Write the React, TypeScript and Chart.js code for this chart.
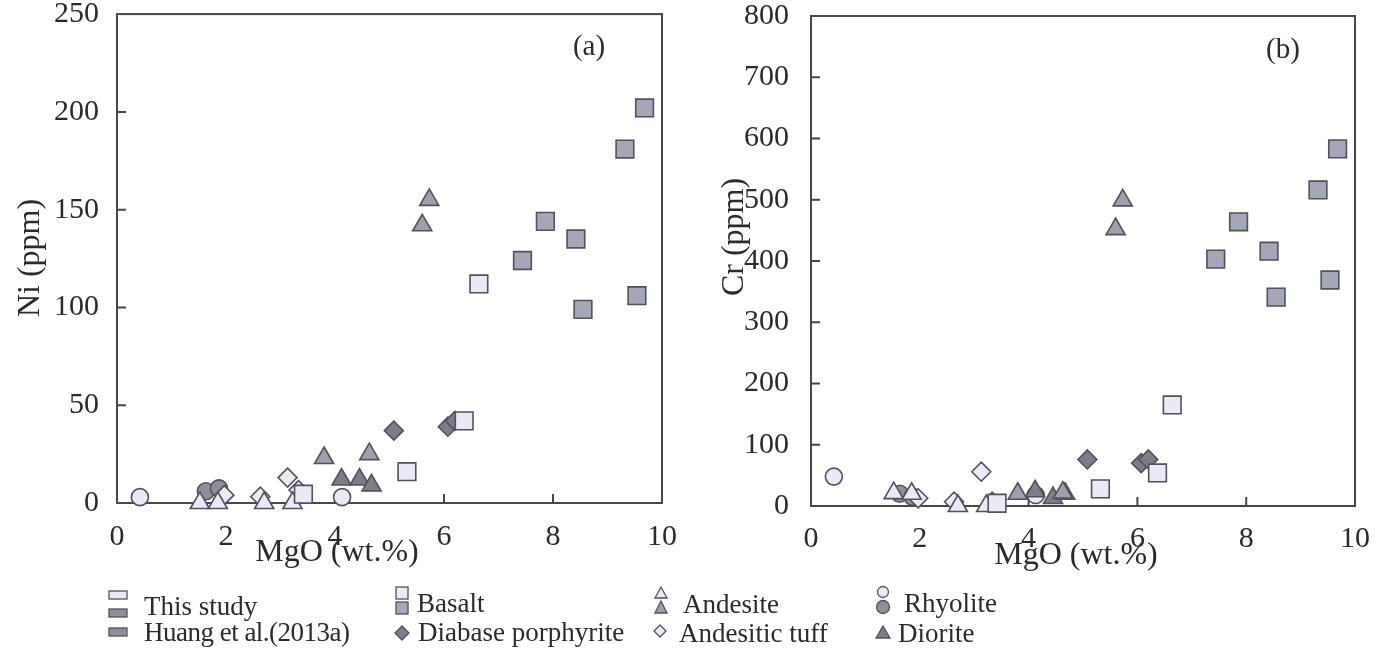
import React, { useEffect, useRef } from "react";
import { Chart, registerables } from "chart.js";

Chart.register(...registerables);

const FONT = '"Liberation Serif", "Times New Roman", serif';
const INK = "#2b2b2b";
const AXIS = "#47474c";
const EDGE = "#52525a";

// Colours of the two sources
const LIGHT = "#e9eaf5";
const HUANG_BASALT = "#a5a6b7";
const HUANG_ANDESITE = "#9fa0ae";
const HUANG_RHYOLITE = "#8e8f9b";
const DARK = "#7c7d88";

// Basalt, Huang et al. (2013a)
const huangBasaltMgO = [9.68, 9.32, 7.86, 8.42, 7.44, 9.54, 8.55];
const huangBasaltNi = [202, 181, 144, 135, 124, 106, 99];
const huangBasaltCr = [583, 516, 464, 416, 403, 369, 341];

// Basalt, this study
const studyBasaltMgO = [6.64, 6.37, 5.32, 3.42];
const studyBasaltNi = [112, 42, 16, 4.5];
const studyBasaltCr = [165, 54, 28, 4.5];

// Andesite, Huang et al. (2013a)
const huangAndesiteMgO = [5.73, 5.6, 3.8, 4.63];
const huangAndesiteNi = [155, 142, 23, 25];
const huangAndesiteCr = [499, 452, 20, 22];

// Andesite, this study
const studyAndesiteMgO = [1.52, 1.85, 2.7, 3.22];
const studyAndesiteNi = [0, 0, 0, 0];
const studyAndesiteCr = [21, 20, 0, 0];

// Diorite
const dioriteMgO = [4.12, 4.45, 4.67];
const dioriteNi = [12, 12, 9];
const dioriteCr = [24, 13, 20];

// Diabase porphyrite
const diabaseMgO = [5.08, 6.07, 6.2];
const diabaseNi = [37, 39, 42];
const diabaseCr = [76, 70, 76];

// Andesitic tuff
const tuffMgO = [3.13, 3.33, 2.63, 1.97];
const tuffNi = [13, 6.6, 3.2, 4];
const tuffCr = [56, 7, 7, 12.6];

// Rhyolite, this study
const studyRhyoliteMgO = [0.42, 4.13];
const studyRhyoliteNi = [3, 3];
const studyRhyoliteCr = [48, 18];

// Rhyolite, Huang et al. (2013a)
const huangRhyoliteMgO = [1.63, 1.87];
const huangRhyoliteNi = [6, 7.5];
const huangRhyoliteCr = [20, 15];

const xTicks = [0, 2, 4, 6, 8, 10];
const niTicks = [0, 50, 100, 150, 200, 250];
const crTicks = [0, 100, 200, 300, 400, 500, 600, 700, 800];

type Series = {
  mgo: number[];
  ni: number[];
  cr: number[];
  style: string;
  radius: number;
  fill: string;
};

// Drawing order: squares first, circles last
const series: Series[] = [
  { mgo: huangBasaltMgO, ni: huangBasaltNi, cr: huangBasaltCr, style: "rect", radius: 12.5, fill: HUANG_BASALT },
  { mgo: studyBasaltMgO, ni: studyBasaltNi, cr: studyBasaltCr, style: "rect", radius: 12.5, fill: LIGHT },
  { mgo: huangAndesiteMgO, ni: huangAndesiteNi, cr: huangAndesiteCr, style: "triangle", radius: 11, fill: HUANG_ANDESITE },
  { mgo: studyAndesiteMgO, ni: studyAndesiteNi, cr: studyAndesiteCr, style: "triangle", radius: 11, fill: LIGHT },
  { mgo: dioriteMgO, ni: dioriteNi, cr: dioriteCr, style: "triangle", radius: 11, fill: DARK },
  { mgo: diabaseMgO, ni: diabaseNi, cr: diabaseCr, style: "rectRot", radius: 9.5, fill: DARK },
  { mgo: tuffMgO, ni: tuffNi, cr: tuffCr, style: "rectRot", radius: 9.5, fill: LIGHT },
  { mgo: huangRhyoliteMgO, ni: huangRhyoliteNi, cr: huangRhyoliteCr, style: "circle", radius: 8.5, fill: HUANG_RHYOLITE },
  { mgo: studyRhyoliteMgO, ni: studyRhyoliteNi, cr: studyRhyoliteCr, style: "circle", radius: 8.5, fill: LIGHT },
];

type PanelSpec = {
  key: "ni" | "cr";
  offsetX: number;
  width: number;
  height: number;
  area: { left: number; right: number; top: number; bottom: number };
  yMax: number;
  yTicks: number[];
  yTitle: string;
  yTitlePos: [number, number];
  xTitlePos: [number, number];
  tag: string;
  tagPos: [number, number];
  yPad: number;
  xPad: number;
};

const panels: PanelSpec[] = [
  {
    key: "ni",
    offsetX: 0,
    width: 690,
    height: 580,
    area: { left: 117, right: 662, top: 12, bottom: 503 },
    yMax: 250,
    yTicks: niTicks,
    yTitle: "Ni (ppm)",
    yTitlePos: [31, 258],
    xTitlePos: [337, 553],
    tag: "(a)",
    tagPos: [589, 47],
    yPad: 18,
    xPad: 16,
  },
  {
    key: "cr",
    offsetX: 690,
    width: 693,
    height: 580,
    area: { left: 121, right: 665, top: 16, bottom: 506 },
    yMax: 800,
    yTicks: crTicks,
    yTitle: "Cr (ppm)",
    yTitlePos: [45, 237],
    xTitlePos: [386, 556],
    tag: "(b)",
    tagPos: [593, 50],
    yPad: 22,
    xPad: 15,
  },
];

const framePlugin = {
  id: "frame",
  beforeDatasetsDraw(chart: any) {
    const { ctx, chartArea: a, scales } = chart;
    ctx.save();
    ctx.strokeStyle = AXIS;
    ctx.lineWidth = 2;
    ctx.strokeRect(a.left, a.top, a.right - a.left, a.bottom - a.top);
    const len = 9;
    ctx.beginPath();
    for (const t of scales.x.ticks) {
      const px = scales.x.getPixelForValue(t.value);
      if (px <= a.left + 1 || px >= a.right - 1) continue;
      ctx.moveTo(px, a.bottom);
      ctx.lineTo(px, a.bottom - len);
    }
    for (const t of scales.y.ticks) {
      const py = scales.y.getPixelForValue(t.value);
      if (py <= a.top + 1 || py >= a.bottom - 1) continue;
      ctx.moveTo(a.left, py);
      ctx.lineTo(a.left + len, py);
    }
    ctx.stroke();
    ctx.restore();
  },
  afterDraw(chart: any) {
    const spec: PanelSpec = chart.options.plugins.frame.spec;
    const { ctx } = chart;
    ctx.save();
    ctx.fillStyle = INK;
    ctx.textAlign = "center";
    ctx.textBaseline = "middle";
    ctx.font = `32px ${FONT}`;
    ctx.fillText("MgO (wt.%)", spec.xTitlePos[0], spec.xTitlePos[1]);
    ctx.save();
    ctx.translate(spec.yTitlePos[0], spec.yTitlePos[1]);
    ctx.rotate(-Math.PI / 2);
    ctx.fillText(spec.yTitle, 0, 0);
    ctx.restore();
    ctx.font = `29px ${FONT}`;
    ctx.fillText(spec.tag, spec.tagPos[0], spec.tagPos[1]);
    ctx.restore();
  },
};

function ScatterPanel({ spec }: { spec: PanelSpec }) {
  const ref = useRef<HTMLCanvasElement | null>(null);

  useEffect(() => {
    if (!ref.current) return;
    const a = spec.area;
    const chart = new Chart(ref.current, {
      type: "scatter",
      data: {
        datasets: series.map((s) => ({
          data: s.mgo.map((x, i) => ({ x, y: s[spec.key][i] })),
          pointStyle: s.style as any,
          pointRadius: s.radius,
          pointHoverRadius: s.radius,
          backgroundColor: s.fill,
          borderColor: EDGE,
          borderWidth: 1.6,
          clip: false as any,
        })),
      },
      options: {
        responsive: false,
        animation: false,
        events: [],
        layout: {
          padding: { left: 0, top: a.top, right: spec.width - a.right, bottom: 0 },
        },
        plugins: {
          legend: { display: false },
          tooltip: { enabled: false },
          frame: { spec },
        } as any,
        scales: {
          x: {
            type: "linear",
            min: 0,
            max: 10,
            afterBuildTicks: (s: any) => {
              s.ticks = xTicks.map((v) => ({ value: v }));
            },
            afterFit: (s: any) => {
              s.height = spec.height - a.bottom;
              s.paddingLeft = 0;
              s.paddingRight = 0;
            },
            grid: { display: false, drawTicks: false },
            border: { display: false },
            ticks: {
              color: INK,
              font: { family: FONT, size: 30 },
              padding: spec.xPad,
              maxRotation: 0,
              autoSkip: false,
            },
          },
          y: {
            type: "linear",
            min: 0,
            max: spec.yMax,
            afterBuildTicks: (s: any) => {
              s.ticks = spec.yTicks.map((v) => ({ value: v }));
            },
            afterFit: (s: any) => {
              s.width = a.left;
              s.paddingTop = 0;
              s.paddingBottom = 0;
            },
            grid: { display: false, drawTicks: false },
            border: { display: false },
            ticks: {
              color: INK,
              font: { family: FONT, size: 30 },
              padding: spec.yPad,
              autoSkip: false,
            },
          },
        },
      },
      plugins: [framePlugin],
    });
    return () => chart.destroy();
  }, [spec]);

  return (
    <canvas
      ref={ref}
      width={spec.width}
      height={spec.height}
      style={{ position: "absolute", left: spec.offsetX, top: 0, width: spec.width, height: spec.height }}
    />
  );
}

const legendText = { fontFamily: FONT, fontSize: 27, fill: INK } as const;

function Legend() {
  const sw = { stroke: EDGE, strokeWidth: 1.3 };
  return (
    <svg
      width={1383}
      height={650}
      style={{ position: "absolute", left: 0, top: 0, pointerEvents: "none" }}
    >
      {/* source swatches */}
      <rect x={109} y={591} width={18} height={8} fill={LIGHT} {...sw} />
      <rect x={109} y={609} width={18} height={8} fill={HUANG_RHYOLITE} {...sw} />
      <rect x={109} y={628} width={18} height={8} fill={HUANG_RHYOLITE} {...sw} />
      <text x={144} y={615} {...legendText}>This study</text>
      <text x={144} y={641} {...legendText} textLength={206}>Huang et al.(2013a)</text>

      {/* basalt */}
      <rect x={396} y={587} width={12} height={12} fill={LIGHT} {...sw} />
      <rect x={396} y={602} width={12} height={12} fill={HUANG_BASALT} {...sw} />
      <text x={417} y={612} {...legendText}>Basalt</text>
      <polygon points="402,626 409,633 402,640 395,633" fill={DARK} {...sw} />
      <text x={418} y={641} {...legendText}>Diabase porphyrite</text>

      {/* andesite */}
      <polygon points="661,587 667,598 655,598" fill={LIGHT} {...sw} />
      <polygon points="661,601 667,613 655,613" fill={HUANG_ANDESITE} {...sw} />
      <text x={683} y={613} {...legendText}>Andesite</text>
      <polygon points="660,625 666,631 660,637 654,631" fill={LIGHT} {...sw} />
      <text x={679} y={642} {...legendText}>Andesitic tuff</text>

      {/* rhyolite and diorite */}
      <circle cx={883} cy={592} r={5.5} fill={LIGHT} {...sw} />
      <circle cx={883} cy={607} r={6.5} fill={HUANG_RHYOLITE} {...sw} />
      <text x={904} y={612} {...legendText}>Rhyolite</text>
      <polygon points="883,626 890,638 876,638" fill={DARK} {...sw} />
      <text x={898} y={642} {...legendText}>Diorite</text>
    </svg>
  );
}

export default function App() {
  return (
    <div
      style={{
        position: "absolute",
        left: 0,
        top: 0,
        width: 1383,
        height: 650,
        background: "#ffffff",
        overflow: "hidden",
      }}
    >
      {panels.map((p) => (
        <ScatterPanel key={p.key} spec={p} />
      ))}
      <Legend />
    </div>
  );
}
